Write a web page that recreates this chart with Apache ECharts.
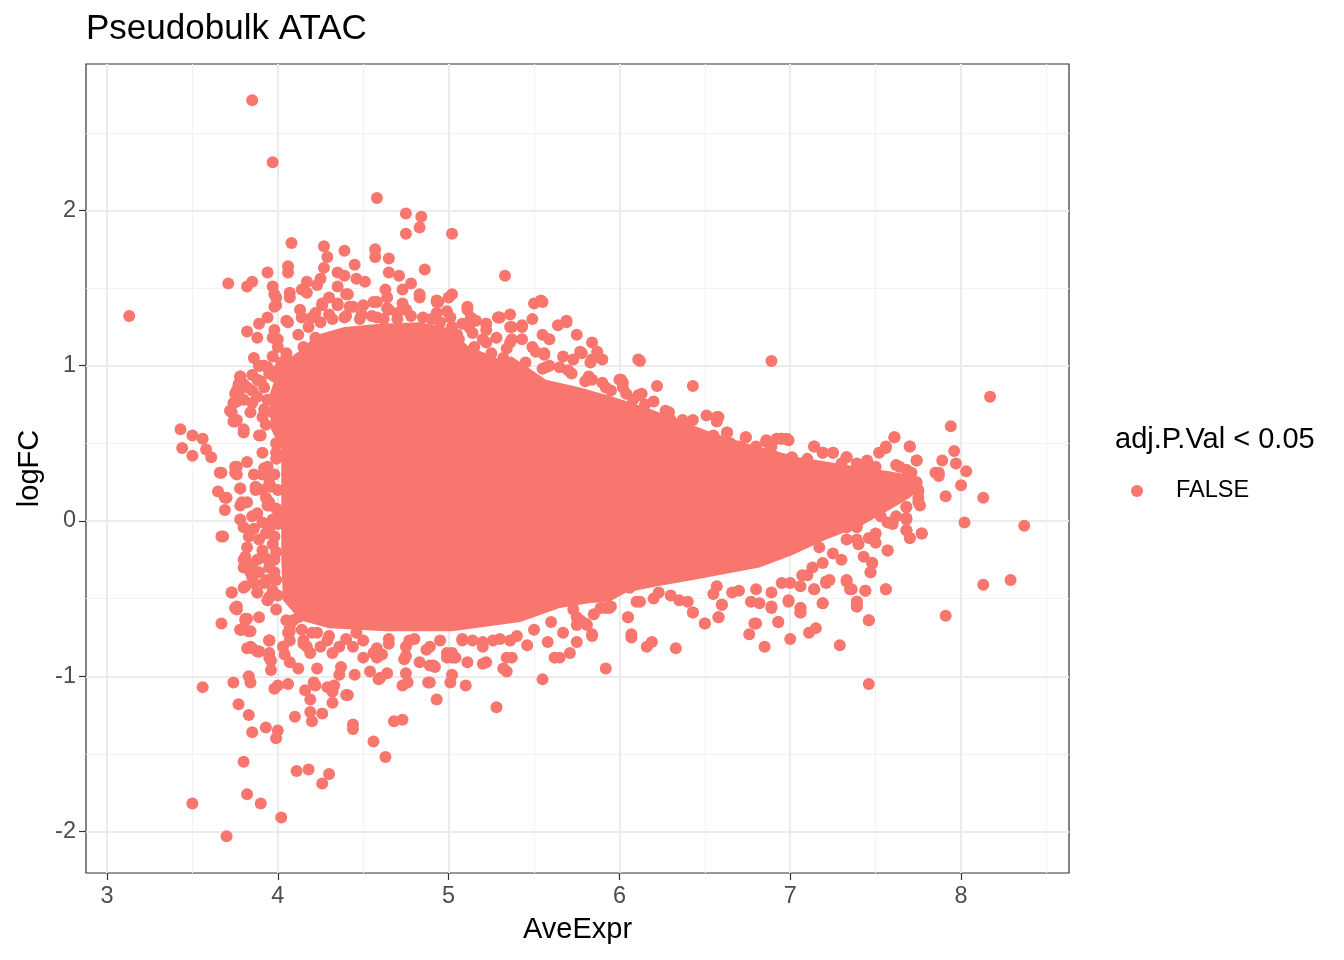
<!DOCTYPE html>
<html>
<head>
<meta charset="utf-8">
<title>Pseudobulk ATAC</title>
<script src="https://cdn.jsdelivr.net/npm/echarts@6/dist/echarts.min.js"></script>
<style>
  html, body { margin: 0; padding: 0; background: #fff; }
  #chart { width: 1344px; height: 960px; }
</style>
</head>
<body>
<div id="chart"></div>
<script>
// MA plot, pseudobulk ATAC. Dense core drawn as filled outline, sparse edge as points.

const FONT = '"Liberation Sans", Arial, Helvetica, sans-serif';
const DOT = '#F8766D';

const X_MIN = 2.877, X_MAX = 8.632;
const Y_MIN = -2.267, Y_MAX = 2.943;
const xTicks = [3, 4, 5, 6, 7, 8];
const xMinor = [3.5, 4.5, 5.5, 6.5, 7.5, 8.5];
const yTicks = [-2, -1, 0, 1, 2];
const yMinor = [-1.5, -0.5, 0.5, 1.5, 2.5];

// solid mass of overlapping points (AveExpr, logFC)
const coreOutline = [
  [4.03, -0.51], [4.02, -0.25], [4.02, 0.14], [4.02, 0.46], [3.96, 0.59], [3.95, 0.81],
  [4.01, 1.00], [4.13, 1.10], [4.23, 1.20], [4.39, 1.25], [4.60, 1.27], [4.83, 1.28],
  [5.01, 1.24], [5.11, 1.13], [5.30, 1.04], [5.37, 1.06], [5.57, 0.91], [5.77, 0.86],
  [5.96, 0.80], [6.16, 0.73], [6.35, 0.65], [6.54, 0.57], [6.74, 0.50], [7.05, 0.41],
  [7.40, 0.35], [7.58, 0.32], [7.73, 0.29], [7.75, 0.20], [7.70, 0.15], [7.58, 0.07],
  [7.40, -0.04], [7.21, -0.12], [7.01, -0.22], [6.82, -0.30], [6.43, -0.38], [6.22, -0.42],
  [6.04, -0.46], [5.94, -0.52], [5.82, -0.53], [5.65, -0.56], [5.42, -0.65], [5.02, -0.71],
  [4.64, -0.71], [4.30, -0.69], [4.13, -0.64]
];

const upperPoints = [
  [3.85, 2.71], [3.97, 2.31], [3.13, 1.32], [4.58, 2.08], [4.75, 1.98], [4.84, 1.96], [4.75, 1.85],
  [4.83, 1.89], [5.02, 1.85], [4.08, 1.79], [4.27, 1.77], [4.29, 1.70], [4.39, 1.74], [4.57, 1.75],
  [4.57, 1.70], [4.65, 1.69], [3.71, 1.53], [3.82, 1.51], [3.85, 1.54], [3.94, 1.60], [4.06, 1.64],
  [4.06, 1.60], [3.97, 1.51], [3.98, 1.46], [3.98, 1.38], [4.45, 1.65], [4.35, 1.60], [4.39, 1.58],
  [4.27, 1.63], [4.86, 1.62], [4.65, 1.60], [4.71, 1.58], [4.78, 1.53], [5.33, 1.58], [4.17, 1.54],
  [4.23, 1.52], [4.25, 1.56], [4.14, 1.49], [4.35, 1.51], [4.41, 1.46], [4.46, 1.56], [4.51, 1.54],
  [4.63, 1.49], [4.73, 1.49], [4.83, 1.46], [4.93, 1.42], [5.02, 1.46], [5.00, 1.44], [5.11, 1.38],
  [5.13, 1.31], [5.22, 1.27], [5.30, 1.31], [5.36, 1.33], [5.50, 1.40], [5.54, 1.42], [5.49, 1.30],
  [5.43, 1.25], [5.64, 1.26], [5.69, 1.29], [5.75, 1.20], [5.84, 1.15], [5.90, 1.04], [5.78, 1.08],
  [5.55, 1.20], [5.59, 1.17], [6.11, 1.04], [5.37, 1.25], [5.43, 1.17], [5.49, 1.12], [5.56, 1.07],
  [5.59, 1.00], [5.29, 1.31], [5.22, 1.15], [5.28, 1.18], [5.34, 1.11], [5.06, 1.17], [5.14, 1.21],
  [5.11, 1.36], [5.67, 1.06], [5.77, 1.09], [5.84, 1.04], [6.00, 0.91], [6.02, 0.89], [3.82, 1.22],
  [3.88, 1.18], [3.89, 1.27], [3.94, 1.31], [4.05, 1.29], [4.07, 1.47], [4.13, 1.36], [4.20, 1.31],
  [4.26, 1.39], [4.30, 1.44], [4.35, 1.39], [4.40, 1.46], [4.44, 1.38], [4.50, 1.39], [4.56, 1.41],
  [4.64, 1.37], [4.70, 1.34], [4.75, 1.36], [4.83, 1.44], [4.94, 1.41], [4.99, 1.35], [5.02, 1.25],
  [5.12, 1.08], [5.22, 1.23], [5.37, 1.17], [5.51, 1.09], [5.65, 0.99], [5.82, 0.93], [5.92, 0.86],
  [6.04, 0.82], [6.11, 0.81], [3.98, 1.23], [3.97, 1.18], [4.00, 1.12], [4.05, 1.08], [4.02, 1.02],
  [4.12, 1.20], [4.18, 1.25], [4.25, 1.28], [4.32, 1.30], [4.15, 1.12], [4.22, 1.18], [4.40, 1.32],
  [4.48, 1.30], [4.55, 1.32], [4.62, 1.30], [4.70, 1.30], [4.78, 1.32], [4.90, 1.30], [4.95, 1.28],
  [5.05, 1.20], [5.15, 1.12], [5.25, 1.08], [5.32, 1.05], [5.45, 1.02], [5.55, 0.98], [5.72, 0.95],
  [5.80, 0.90], [5.95, 0.84], [6.08, 0.78], [6.15, 0.75],
  [3.99, 1.44], [3.99, 1.39], [4.07, 1.44], [4.17, 1.47], [4.26, 1.40], [4.35, 1.40], [4.42, 1.38],
  [4.58, 1.41], [4.64, 1.44], [4.73, 1.40], [4.93, 1.41], [5.16, 1.29], [5.20, 1.17], [5.12, 1.25],
  [4.06, 1.28], [4.14, 1.31], [4.22, 1.34], [4.30, 1.33], [4.39, 1.31], [4.49, 1.33], [4.58, 1.31],
  [4.65, 1.36], [4.75, 1.36], [4.85, 1.31], [4.93, 1.34], [5.01, 1.31], [5.08, 1.27], [4.00, 1.17],
  [3.97, 1.06], [3.94, 0.99], [3.89, 1.00], [5.22, 1.27], [5.29, 1.31], [5.36, 1.25], [5.43, 1.26],
  [5.55, 1.41], [5.36, 1.15], [5.69, 1.28], [5.87, 1.09], [5.73, 1.04], [5.83, 1.02], [5.70, 0.97],
  [5.57, 0.99], [5.56, 1.08]
];

const rightPoints = [
  [6.22, 0.87], [6.43, 0.87], [6.29, 0.70], [6.51, 0.68], [6.58, 0.67], [6.63, 0.57], [6.74, 0.54],
  [6.86, 0.51], [6.95, 0.53], [6.98, 0.53], [7.14, 0.48], [7.19, 0.44], [7.25, 0.44], [7.33, 0.41],
  [7.56, 0.47], [7.61, 0.54], [7.70, 0.48], [7.74, 0.39], [6.89, 1.03], [6.12, 1.03], [6.30, 0.65],
  [6.40, 0.62], [6.55, 0.55], [6.65, 0.50], [6.80, 0.44], [6.90, 0.42], [7.00, 0.40], [7.10, 0.40],
  [7.30, 0.37], [7.45, 0.37], [7.62, 0.36], [7.68, 0.33], [8.17, 0.80], [7.94, 0.61], [7.96, 0.45],
  [7.97, 0.37], [8.03, 0.32], [7.89, 0.39], [7.87, 0.31], [7.87, 0.29], [8.00, 0.23], [7.91, 0.16],
  [8.13, 0.15], [8.02, -0.01], [8.37, -0.03], [7.77, -0.08], [8.13, -0.41], [8.29, -0.38],
  [7.91, -0.61], [7.46, -1.05], [7.76, 0.10], [7.75, 0.15], [7.75, 0.19], [7.70, -0.11],
  [7.68, -0.06], [7.68, 0.01], [7.68, 0.09], [7.29, -0.80], [7.15, -0.69], [7.11, -0.72],
  [7.00, -0.76], [6.85, -0.81], [6.76, -0.73], [6.80, -0.66], [6.93, -0.65], [7.06, -0.56],
  [7.06, -0.59], [7.19, -0.53], [7.46, -0.64], [7.44, -0.45], [7.56, -0.44], [7.39, -0.52],
  [7.39, -0.55], [7.35, -0.44], [7.33, -0.39], [7.47, -0.33], [7.57, -0.19], [7.48, -0.27],
  [5.92, -0.95], [6.33, -0.82], [6.16, -0.81], [6.19, -0.78], [6.07, -0.75], [6.05, -0.62],
  [5.84, -0.74], [5.71, -0.85], [6.50, -0.66], [6.58, -0.62], [6.60, -0.54], [6.43, -0.59],
  [6.89, -0.56], [6.99, -0.52], [7.14, -0.44], [7.21, -0.39], [7.30, -0.25], [7.40, -0.15],
  [7.50, -0.08], [7.60, -0.02], [7.10, -0.35], [6.95, -0.40], [6.70, -0.45], [6.55, -0.47],
  [6.30, -0.48], [6.20, -0.50], [6.10, -0.52], [5.95, -0.55], [5.85, -0.60], [5.75, -0.62],
  [5.60, -0.65], [5.50, -0.70], [5.40, -0.74], [5.30, -0.76], [5.20, -0.78],
  [5.84, 0.91], [5.90, 0.89], [6.01, 0.91], [6.02, 0.86], [6.13, 0.82], [6.20, 0.77], [6.27, 0.71],
  [6.37, 0.65], [6.43, 0.65], [6.57, 0.67], [6.86, 0.52], [6.89, 0.48], [6.92, 0.53]
];

const tailPoints = [
  [6.06, -0.43], [6.05, -0.62], [6.07, -0.73], [5.89, -0.56], [5.94, -0.56], [5.84, -0.73],
  [5.80, -0.66], [5.75, -0.67], [6.12, -0.52], [6.23, -0.46], [6.35, -0.51], [6.40, -0.52],
  [6.43, -0.59], [6.50, -0.66], [6.58, -0.62], [6.60, -0.54], [6.57, -0.42], [6.66, -0.46],
  [6.77, -0.52], [6.82, -0.53], [6.80, -0.44], [6.89, -0.46], [6.89, -0.55], [6.99, -0.51],
  [6.79, -0.66], [6.93, -0.65], [7.06, -0.56], [7.06, -0.59], [7.00, -0.40], [7.06, -0.42],
  [7.14, -0.44], [7.19, -0.53], [7.21, -0.40], [7.23, -0.38], [7.07, -0.35], [7.13, -0.30],
  [7.19, -0.27], [7.33, -0.38], [7.36, -0.44], [7.39, -0.52], [7.39, -0.55], [7.44, -0.45],
  [7.56, -0.44], [7.46, -0.64], [7.47, -0.33], [7.48, -0.27], [7.43, -0.23], [7.57, -0.19],
  [7.50, -0.14], [7.46, -0.11], [7.39, -0.12], [7.33, -0.12], [7.25, -0.21], [7.17, -0.17],
  [7.70, -0.11], [7.68, -0.06], [7.77, -0.08], [7.68, 0.02], [7.68, 0.09], [7.57, -0.01],
  [7.62, 0.03], [7.53, 0.03], [7.75, 0.20], [7.75, 0.12], [7.55, 0.15], [7.49, 0.10],
  [7.42, 0.05], [7.39, -0.04], [7.33, -0.04], [6.63, 0.57], [6.74, 0.54], [6.86, 0.51],
  [6.87, 0.44], [6.95, 0.53], [6.99, 0.52], [7.01, 0.41], [7.14, 0.48], [7.19, 0.44],
  [7.25, 0.44], [7.33, 0.41], [7.39, 0.37], [7.45, 0.39], [7.52, 0.44], [7.56, 0.48],
  [7.61, 0.54], [7.70, 0.48], [7.74, 0.39], [7.64, 0.35], [7.71, 0.31], [7.74, 0.25],
  [7.85, 0.31], [7.50, 0.35], [7.40, 0.35], [6.57, 0.64], [6.70, 0.48], [6.80, 0.48],
  [7.09, 0.37], [6.92, 0.39], [5.73, -0.57], [5.77, -0.64]
];

const lowerPoints = [
  [3.68, -0.10], [3.73, -0.46], [3.75, -0.56], [3.67, -0.66], [3.78, -0.70], [3.83, -0.71],
  [3.81, -0.63], [3.95, -0.77], [3.84, -0.81], [3.89, -0.84], [3.95, -0.85], [3.96, -0.96],
  [3.74, -1.04], [3.83, -1.00], [3.84, -1.04], [3.77, -1.18], [3.83, -1.25], [3.85, -1.36],
  [3.93, -1.33], [4.00, -1.35], [3.99, -1.40], [3.98, -1.08], [4.00, -1.06], [4.06, -1.05],
  [4.10, -1.26], [3.80, -1.55], [3.82, -1.76], [3.90, -1.82], [4.02, -1.91], [4.11, -1.61],
  [4.18, -1.60], [4.30, -1.63], [4.26, -1.69], [4.20, -1.29], [4.19, -1.23], [4.26, -1.24],
  [4.16, -1.09], [4.19, -1.15], [4.22, -1.06], [4.32, -1.17], [4.41, -1.12], [4.44, -1.31],
  [4.44, -1.34], [4.56, -1.42], [4.63, -1.52], [4.68, -1.29], [4.73, -1.28], [4.93, -1.15],
  [4.73, -1.06], [4.76, -1.04], [4.89, -1.04], [5.01, -1.04], [5.02, -0.99], [5.10, -1.06],
  [5.28, -1.20], [5.55, -1.02], [3.56, -1.07], [3.50, -1.82], [3.70, -2.03], [5.75, -0.78],
  [5.58, -0.78], [5.46, -0.80], [5.62, -0.88], [5.65, -0.88], [5.32, -0.95], [5.34, -0.97],
  [5.11, -0.91], [5.20, -0.92], [5.02, -0.88], [4.89, -0.93], [4.92, -0.94], [4.74, -0.89],
  [4.75, -0.98], [4.64, -0.98], [4.59, -1.02], [4.54, -0.97], [4.45, -0.99], [4.36, -0.99],
  [4.33, -1.06], [4.23, -0.95], [4.12, -0.95], [4.21, -1.04], [4.07, -0.91], [4.04, -0.86],
  [3.96, -0.90], [3.88, -0.84], [3.82, -0.82], [4.07, -0.77], [4.07, -0.71], [4.19, -0.85],
  [4.32, -0.85], [4.37, -0.94], [4.50, -0.88], [4.61, -0.86], [4.58, -0.88], [4.83, -0.91],
  [4.91, -0.93], [4.99, -0.88], [5.04, -0.88], [4.75, -0.87], [5.22, -0.91], [5.34, -0.88],
  [5.37, -0.88], [4.15, -0.79], [4.25, -0.81], [4.44, -0.81], [4.58, -0.82], [4.75, -0.81],
  [4.87, -0.83], [5.02, -0.85], [5.14, -0.77], [5.26, -0.77], [5.36, -0.77], [5.67, -0.72],
  [5.81, -0.67], [5.92, -0.56], [4.32, -1.10], [4.29, -1.07], [4.40, -1.12], [4.60, -1.01],
  [4.88, -1.04], [4.20, -0.72], [4.30, -0.74], [4.40, -0.76], [4.50, -0.77], [4.65, -0.76],
  [4.80, -0.76], [4.95, -0.77], [5.08, -0.76], [4.12, -0.62], [4.14, -0.70],
  [4.07, -0.68], [4.17, -0.81], [4.29, -0.77], [4.36, -0.81], [4.46, -0.72], [4.56, -0.85],
  [4.65, -0.79], [4.77, -0.77], [4.89, -0.81], [4.99, -0.85], [5.08, -0.77], [5.20, -0.81],
  [4.05, -0.64], [4.15, -0.77], [4.23, -0.72]
];

const leftPoints = [
  [3.43, 0.59], [3.50, 0.55], [3.56, 0.53], [3.44, 0.47], [3.50, 0.42], [3.58, 0.46], [3.61, 0.41],
  [3.66, 0.31], [3.75, 0.35], [3.75, 0.31], [3.65, 0.19], [3.70, 0.15], [3.69, 0.07], [3.78, 0.21],
  [3.67, -0.10], [3.73, 0.70], [3.75, 0.64], [3.80, 0.59], [3.89, 0.55], [4.03, 0.63], [4.03, 0.57],
  [3.77, 0.82], [3.80, 0.88], [3.85, 0.76], [3.94, 0.78], [3.97, 0.70], [4.07, 0.70], [3.91, 0.44],
  [3.99, 0.44], [3.91, 0.30], [3.88, 0.21], [3.96, 0.22], [3.95, 0.10], [4.01, 0.05], [3.78, 0.10],
  [3.85, 0.03], [3.82, -0.17], [3.80, -0.25], [3.80, -0.30], [3.85, -0.36], [3.94, -0.38],
  [3.73, -0.46], [3.80, -0.43], [3.88, -0.46], [3.76, -0.57], [3.82, -0.63], [3.78, -0.70],
  [3.84, -0.71], [3.89, -0.62], [3.95, -0.49], [3.94, -0.51], [3.85, -0.82], [3.89, -0.84],
  [3.95, -0.88], [3.95, -0.77], [4.03, -0.81], [4.06, -0.72], [4.09, -0.64], [3.78, 0.93],
  [3.77, 0.88], [3.75, 0.82], [3.76, 0.77], [3.72, 0.71], [3.74, 0.64], [3.80, 0.57], [3.85, 0.94],
  [3.89, 1.00], [3.90, 0.55], [3.67, 0.31], [3.76, 0.30], [3.69, 0.15], [3.92, 0.34], [3.95, 0.28],
  [3.87, 0.20], [3.94, 0.10], [3.86, 1.05], [3.92, 1.00], [3.95, 0.95], [4.00, 0.97], [3.90, 0.90],
  [3.82, 0.86], [4.03, 0.92], [3.88, 0.80],
  [3.76, 0.35], [3.94, 0.35], [3.78, 0.21], [3.87, 0.22], [3.91, 0.20], [3.95, 0.24], [3.79, 0.12],
  [3.82, 0.12], [3.95, 0.12], [3.78, 0.01], [3.80, -0.04], [3.88, 0.05], [3.91, -0.01], [3.97, 0.01],
  [3.81, -0.23], [3.89, -0.12], [3.91, -0.19], [3.88, -0.25], [3.84, -0.33], [3.89, -0.33],
  [3.95, -0.30], [3.99, -0.38], [3.81, -0.42], [3.76, -0.55], [3.81, -0.64], [3.79, -0.70],
  [3.88, -0.46], [3.94, -0.51], [3.99, -0.57], [3.95, -0.77], [3.86, -0.05], [3.93, -0.08],
  [3.97, -0.15], [3.85, -0.28], [3.93, -0.24], [3.98, -0.25], [3.92, -0.40], [3.86, -0.40],
  [3.97, -0.45], [3.83, -0.10], [3.95, -0.05], [3.99, 0.08], [3.93, 0.15], [3.98, 0.30],
  [3.86, 0.30], [3.82, 0.38], [3.92, 0.72], [3.93, 0.62], [3.92, 0.86], [3.98, 0.93], [4.05, 1.05],
  [3.78, 0.93], [3.76, 0.84], [3.74, 0.76], [3.80, 0.78], [3.85, 0.84], [3.88, 0.91], [3.84, 0.70],
  [3.91, 0.67], [3.76, 0.65], [4.01, 0.63], [4.07, 0.71],
  [4.00, -0.48], [3.99, -0.20], [4.00, 0.20], [3.99, 0.40], [4.00, -0.02], [3.98, -0.10],
  [3.99, 0.50], [3.98, -0.33]
];

const points = [].concat(upperPoints, rightPoints, tailPoints, lowerPoints, leftPoints);
const blobs = [coreOutline];

const chart = echarts.init(document.getElementById('chart'), null, { renderer: 'canvas' });

const majorSplit = { show: true, lineStyle: { color: '#EBEBEB', width: 2 } };
const minorSplit = { show: true, lineStyle: { color: '#F2F2F2', width: 1 } };

const option = {
  animation: false,
  backgroundColor: '#ffffff',
  title: [
    {
      text: 'Pseudobulk ATAC', left: 86, top: 12, padding: 0,
      textStyle: { fontFamily: FONT, fontSize: 35, fontWeight: 'normal', color: '#000' }
    },
    {
      text: 'adj.P.Val < 0.05', left: 1115, top: 425, padding: 0,
      textStyle: { fontFamily: FONT, fontSize: 29, fontWeight: 'normal', color: '#000' }
    }
  ],
  legend: {
    data: ['FALSE'], left: 1131, top: 479, padding: 0,
    icon: 'circle', itemWidth: 68, itemHeight: 12,
    textStyle: { fontFamily: FONT, fontSize: 23.5, color: '#000' }
  },
  grid: {
    left: 86, right: 275, top: 64, bottom: 87,
    show: true, borderColor: '#333333', borderWidth: 1.2, backgroundColor: 'transparent'
  },
  xAxis: [
    {
      type: 'value', min: X_MIN, max: X_MAX, position: 'bottom',
      name: 'AveExpr', nameLocation: 'middle', nameGap: 42,
      nameTextStyle: { fontFamily: FONT, fontSize: 29, color: '#000' },
      axisLine: { show: false, onZero: false },
      axisTick: { show: true, length: 7, customValues: xTicks, lineStyle: { color: '#333333', width: 1.2 } },
      axisLabel: { customValues: xTicks, margin: 12, color: '#4D4D4D', fontFamily: FONT, fontSize: 23.5 },
      splitLine: majorSplit
    },
    {
      type: 'value', min: X_MIN, max: X_MAX, position: 'bottom',
      axisLine: { show: false, onZero: false },
      axisTick: { show: false, customValues: xMinor },
      axisLabel: { show: false, customValues: xMinor },
      splitLine: minorSplit
    }
  ],
  yAxis: [
    {
      type: 'value', min: Y_MIN, max: Y_MAX, position: 'left',
      name: 'logFC', nameLocation: 'middle', nameGap: 42,
      nameTextStyle: { fontFamily: FONT, fontSize: 29, color: '#000' },
      axisLine: { show: false, onZero: false },
      axisTick: { show: true, length: 7, customValues: yTicks, lineStyle: { color: '#333333', width: 1.2 } },
      axisLabel: { customValues: yTicks, margin: 10, color: '#4D4D4D', fontFamily: FONT, fontSize: 23.5 },
      splitLine: majorSplit
    },
    {
      type: 'value', min: Y_MIN, max: Y_MAX, position: 'left',
      axisLine: { show: false, onZero: false },
      axisTick: { show: false, customValues: yMinor },
      axisLabel: { show: false, customValues: yMinor },
      splitLine: minorSplit
    }
  ],
  series: [
    {
      name: 'core',
      type: 'custom',
      xAxisIndex: 0, yAxisIndex: 0,
      silent: true, clip: true,
      data: blobs.map((b, i) => [b[0][0], b[0][1], i]),
      renderItem: (params, api) => {
        const outline = blobs[api.value(2)];
        return {
          type: 'polygon',
          shape: { points: outline.map(p => api.coord(p)) },
          style: { fill: DOT }
        };
      },
      z: 2
    },
    {
      name: 'FALSE',
      type: 'scatter',
      xAxisIndex: 0, yAxisIndex: 0,
      data: points,
      symbol: 'circle',
      symbolSize: 12,
      itemStyle: { color: DOT, opacity: 1 },
      silent: true,
      z: 3
    }
  ]
};

chart.setOption(option);
</script>
</body>
</html>
